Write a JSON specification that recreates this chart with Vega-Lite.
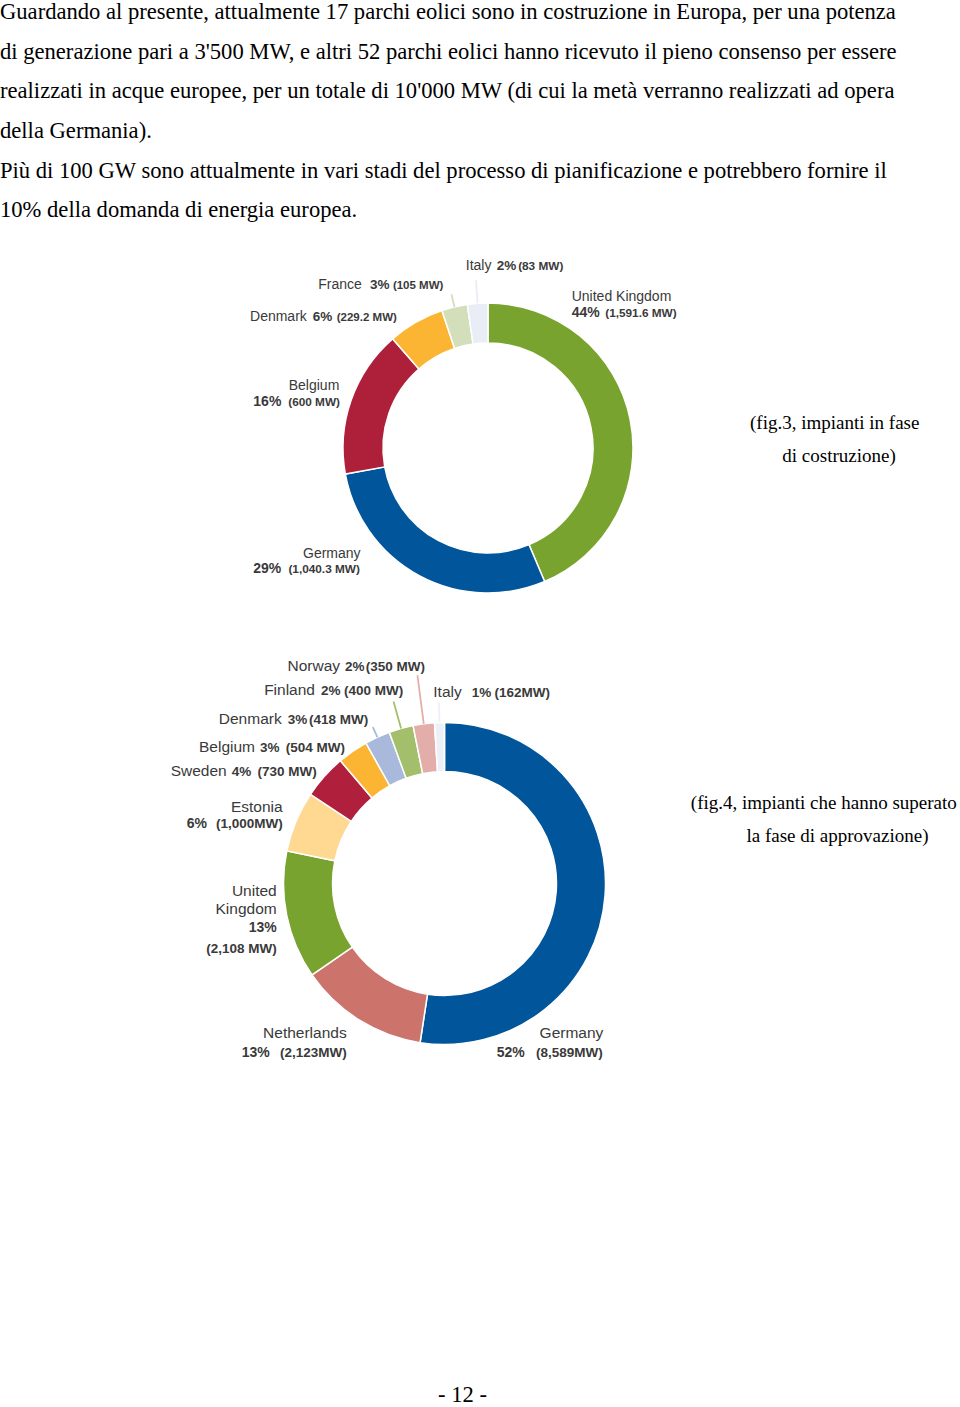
{
  "$schema": "https://vega.github.io/schema/vega-lite/v6.json",
  "padding": 0,
  "background": "white",
  "bounds": "flush",
  "resolve": {"scale": {"color": "independent", "theta": "independent"}},
  "title": {
    "text": [
      "Guardando al presente, attualmente 17 parchi eolici sono in costruzione in Europa, per una potenza",
      "di generazione pari a 3'500 MW, e altri 52 parchi eolici hanno ricevuto il pieno consenso per essere",
      "realizzati in acque europee, per un totale di 10'000 MW (di cui la metà verranno realizzati ad opera",
      "della Germania).",
      "Più di 100 GW sono attualmente in vari stadi del processo di pianificazione e potrebbero fornire il",
      "10% della domanda di energia europea."
    ],
    "anchor": "start",
    "frame": "group",
    "align": "left",
    "baseline": "top",
    "font": "Liberation Serif",
    "fontSize": 22.6,
    "fontWeight": "normal",
    "color": "#000000",
    "lineHeight": 39.7,
    "offset": -48,
    "dx": -16
  },
  "spacing": 0,
  "vconcat": [
    {
      "width": 944,
      "height": 432,
      "layer": [
        {
          "data": {
            "values": [
              {"country": "United Kingdom", "mw": 1591.6, "pct": "44%", "mwText": "(1,591.6 MW)"},
              {"country": "Germany", "mw": 1040.3, "pct": "29%", "mwText": "(1,040.3 MW)"},
              {"country": "Belgium", "mw": 600, "pct": "16%", "mwText": "(600 MW)"},
              {"country": "Denmark", "mw": 229.2, "pct": "6%", "mwText": "(229.2 MW)"},
              {"country": "France", "mw": 105, "pct": "3%", "mwText": "(105 MW)"},
              {"country": "Italy", "mw": 83, "pct": "2%", "mwText": "(83 MW)"}
            ]
          },
          "encoding": {
            "theta": {"field": "mw", "type": "quantitative", "stack": true},
            "order": {"field": "mw", "type": "quantitative", "sort": "descending"},
            "detail": {"field": "country", "type": "nominal"}
          },
          "layer": [
            {
              "mark": {"type": "arc", "innerRadius": 105, "outerRadius": 145, "stroke": "white", "strokeWidth": 1.5},
              "encoding": {
                "color": {"field": "country", "type": "nominal", "legend": null,
                  "scale": {"domain": ["United Kingdom", "Germany", "Belgium", "Denmark", "France", "Italy"],
                            "range": ["#79a32f", "#00559b", "#ae1f3a", "#fbb532", "#d3dfbb", "#e8edf6"]}}
              }
            },
            {
              "mark": {"type": "arc", "filled": false, "innerRadius": 145, "outerRadius": 158, "padAngle": 2, "strokeWidth": 1.8},
              "encoding": {
                "color": {"field": "country", "type": "nominal", "legend": null},
                "opacity": {"condition": {"test": "datum.country === 'France'", "value": 1}, "value": 0}
              }
            },
            {
              "mark": {"type": "arc", "filled": false, "innerRadius": 145, "outerRadius": 168, "padAngle": 2, "strokeWidth": 1.8},
              "encoding": {
                "color": {"field": "country", "type": "nominal", "legend": null},
                "opacity": {"condition": {"test": "datum.country === 'Italy'", "value": 1}, "value": 0}
              }
            },
            {"mark": {"type": "text", "radius": 145, "align": "left", "dx": -58.4, "dy": -118.4, "fontSize": 14},
             "encoding": {"text": {"condition": {"test": "datum.country === 'United Kingdom'", "field": "country"}, "value": ""}}},
            {"mark": {"type": "text", "radius": 145, "align": "left", "dx": -58.4, "dy": -102.4, "fontSize": 14, "fontWeight": "bold"},
             "encoding": {"text": {"condition": {"test": "datum.country === 'United Kingdom'", "field": "pct"}, "value": ""}}},
            {"mark": {"type": "text", "radius": 145, "align": "right", "dx": 46.6, "dy": -102.4, "fontSize": 11.8, "fontWeight": "bold"},
             "encoding": {"text": {"condition": {"test": "datum.country === 'United Kingdom'", "field": "mwText"}, "value": ""}}},

            {"mark": {"type": "text", "radius": 145, "align": "right", "dx": -58.6, "dy": -17.4, "fontSize": 14},
             "encoding": {"text": {"condition": {"test": "datum.country === 'Germany'", "field": "country"}, "value": ""}}},
            {"mark": {"type": "text", "radius": 145, "align": "left", "dx": -166, "dy": -2.4, "fontSize": 14, "fontWeight": "bold"},
             "encoding": {"text": {"condition": {"test": "datum.country === 'Germany'", "field": "pct"}, "value": ""}}},
            {"mark": {"type": "text", "radius": 145, "align": "right", "dx": -59.3, "dy": -2.4, "fontSize": 11.8, "fontWeight": "bold"},
             "encoding": {"text": {"condition": {"test": "datum.country === 'Germany'", "field": "mwText"}, "value": ""}}},

            {"mark": {"type": "text", "radius": 145, "align": "right", "dx": -11.8, "dy": -10.3, "fontSize": 14},
             "encoding": {"text": {"condition": {"test": "datum.country === 'Belgium'", "field": "country"}, "value": ""}}},
            {"mark": {"type": "text", "radius": 145, "align": "left", "dx": -97.8, "dy": 5.7, "fontSize": 14, "fontWeight": "bold"},
             "encoding": {"text": {"condition": {"test": "datum.country === 'Belgium'", "field": "pct"}, "value": ""}}},
            {"mark": {"type": "text", "radius": 145, "align": "right", "dx": -11.1, "dy": 5.7, "fontSize": 11.8, "fontWeight": "bold"},
             "encoding": {"text": {"condition": {"test": "datum.country === 'Belgium'", "field": "mwText"}, "value": ""}}},

            {"mark": {"type": "text", "radius": 145, "align": "right", "dx": -109, "dy": -1.6, "fontSize": 14},
             "encoding": {"text": {"condition": {"test": "datum.country === 'Denmark'", "field": "country"}, "value": ""}}},
            {"mark": {"type": "text", "radius": 145, "align": "left", "dx": -103, "dy": -1.6, "fontSize": 13.5, "fontWeight": "bold"},
             "encoding": {"text": {"condition": {"test": "datum.country === 'Denmark'", "field": "pct"}, "value": ""}}},
            {"mark": {"type": "text", "radius": 145, "align": "right", "dx": -19, "dy": -1.6, "fontSize": 11.5, "fontWeight": "bold"},
             "encoding": {"text": {"condition": {"test": "datum.country === 'Denmark'", "field": "mwText"}, "value": ""}}},

            {"mark": {"type": "text", "radius": 145, "align": "right", "dx": -92.7, "dy": -17.9, "fontSize": 14},
             "encoding": {"text": {"condition": {"test": "datum.country === 'France'", "field": "country"}, "value": ""}}},
            {"mark": {"type": "text", "radius": 145, "align": "left", "dx": -84.4, "dy": -17.9, "fontSize": 13.5, "fontWeight": "bold"},
             "encoding": {"text": {"condition": {"test": "datum.country === 'France'", "field": "pct"}, "value": ""}}},
            {"mark": {"type": "text", "radius": 145, "align": "right", "dx": -11.1, "dy": -17.9, "fontSize": 11.5, "fontWeight": "bold"},
             "encoding": {"text": {"condition": {"test": "datum.country === 'France'", "field": "mwText"}, "value": ""}}},

            {"mark": {"type": "text", "radius": 145, "align": "left", "dx": -11.9, "dy": -33.4, "fontSize": 14},
             "encoding": {"text": {"condition": {"test": "datum.country === 'Italy'", "field": "country"}, "value": ""}}},
            {"mark": {"type": "text", "radius": 145, "align": "left", "dx": 19.1, "dy": -33.4, "fontSize": 13.5, "fontWeight": "bold"},
             "encoding": {"text": {"condition": {"test": "datum.country === 'Italy'", "field": "pct"}, "value": ""}}},
            {"mark": {"type": "text", "radius": 145, "align": "right", "dx": 85.7, "dy": -33.4, "fontSize": 11.8, "fontWeight": "bold"},
             "encoding": {"text": {"condition": {"test": "datum.country === 'Italy'", "field": "mwText"}, "value": ""}}}
          ]
        },
        {
          "data": {"values": [{"l1": "(fig.3, impianti in fase", "l2": "di costruzione)"}]},
          "layer": [
            {"mark": {"type": "text", "font": "Liberation Serif", "fontSize": 19, "color": "#000000", "align": "center", "dx": 346.7, "dy": -18.7},
             "encoding": {"text": {"field": "l1", "type": "nominal"}}},
            {"mark": {"type": "text", "font": "Liberation Serif", "fontSize": 19, "color": "#000000", "align": "center", "dx": 351, "dy": 13.7},
             "encoding": {"text": {"field": "l2", "type": "nominal"}}}
          ]
        }
      ]
    },
    {
      "width": 857,
      "height": 439,
      "layer": [
        {
          "data": {
            "values": [
              {"country": "Germany", "mw": 8589, "pct": "52%", "mwText": "(8,589MW)"},
              {"country": "Netherlands", "mw": 2123, "pct": "13%", "mwText": "(2,123MW)"},
              {"country": "United Kingdom", "mw": 2108, "pct": "13%", "mwText": "(2,108 MW)"},
              {"country": "Estonia", "mw": 1000, "pct": "6%", "mwText": "(1,000MW)"},
              {"country": "Sweden", "mw": 730, "pct": "4%", "mwText": "(730 MW)"},
              {"country": "Belgium", "mw": 504, "pct": "3%", "mwText": "(504 MW)"},
              {"country": "Denmark", "mw": 418, "pct": "3%", "mwText": "(418 MW)"},
              {"country": "Finland", "mw": 400, "pct": "2%", "mwText": "(400 MW)"},
              {"country": "Norway", "mw": 350, "pct": "2%", "mwText": "(350 MW)"},
              {"country": "Italy", "mw": 162, "pct": "1%", "mwText": "(162MW)"}
            ]
          },
          "encoding": {
            "theta": {"field": "mw", "type": "quantitative", "stack": true},
            "order": {"field": "mw", "type": "quantitative", "sort": "descending"},
            "detail": {"field": "country", "type": "nominal"}
          },
          "layer": [
            {
              "mark": {"type": "arc", "innerRadius": 112, "outerRadius": 161, "stroke": "white", "strokeWidth": 1.5},
              "encoding": {
                "color": {"field": "country", "type": "nominal", "legend": null,
                  "scale": {"domain": ["Germany", "Netherlands", "United Kingdom", "Estonia", "Sweden", "Belgium", "Denmark", "Finland", "Norway", "Italy"],
                            "range": ["#00559b", "#cc746b", "#79a32f", "#ffd891", "#b01f3b", "#fbb532", "#a8b9db", "#a3bf6b", "#e3aeaa", "#edf0f7"]}}
              }
            },
            {
              "mark": {"type": "arc", "filled": false, "innerRadius": 161, "outerRadius": 172, "padAngle": 2, "strokeWidth": 1.8},
              "encoding": {
                "color": {"field": "country", "type": "nominal", "legend": null},
                "opacity": {"condition": {"test": "datum.country === 'Denmark'", "value": 1}, "value": 0}
              }
            },
            {
              "mark": {"type": "arc", "filled": false, "innerRadius": 161, "outerRadius": 189, "padAngle": 2, "strokeWidth": 1.8},
              "encoding": {
                "color": {"field": "country", "type": "nominal", "legend": null},
                "opacity": {"condition": {"test": "datum.country === 'Finland'", "value": 1}, "value": 0}
              }
            },
            {
              "mark": {"type": "arc", "filled": false, "innerRadius": 161, "outerRadius": 210, "padAngle": 2, "strokeWidth": 1.8},
              "encoding": {
                "color": {"field": "country", "type": "nominal", "legend": null},
                "opacity": {"condition": {"test": "datum.country === 'Norway'", "value": 1}, "value": 0}
              }
            },
            {
              "mark": {"type": "arc", "filled": false, "innerRadius": 161, "outerRadius": 181, "padAngle": 2, "strokeWidth": 1.8},
              "encoding": {
                "color": {"field": "country", "type": "nominal", "legend": null},
                "opacity": {"condition": {"test": "datum.country === 'Italy'", "value": 1}, "value": 0}
              }
            },

            {"mark": {"type": "text", "radius": 161, "align": "right", "dx": -1.7, "dy": 142.6, "fontSize": 15.5},
             "encoding": {"text": {"condition": {"test": "datum.country === 'Germany'", "field": "country"}, "value": ""}}},
            {"mark": {"type": "text", "radius": 161, "align": "left", "dx": -108.3, "dy": 161, "fontSize": 14, "fontWeight": "bold"},
             "encoding": {"text": {"condition": {"test": "datum.country === 'Germany'", "field": "pct"}, "value": ""}}},
            {"mark": {"type": "text", "radius": 161, "align": "right", "dx": -2.3, "dy": 161, "fontSize": 13.5, "fontWeight": "bold"},
             "encoding": {"text": {"condition": {"test": "datum.country === 'Germany'", "field": "mwText"}, "value": ""}}},

            {"mark": {"type": "text", "radius": 161, "align": "right", "dx": -12.4, "dy": 18.3, "fontSize": 15.5},
             "encoding": {"text": {"condition": {"test": "datum.country === 'Netherlands'", "field": "country"}, "value": ""}}},
            {"mark": {"type": "text", "radius": 161, "align": "left", "dx": -117.4, "dy": 36.7, "fontSize": 14, "fontWeight": "bold"},
             "encoding": {"text": {"condition": {"test": "datum.country === 'Netherlands'", "field": "pct"}, "value": ""}}},
            {"mark": {"type": "text", "radius": 161, "align": "right", "dx": -12.4, "dy": 36.7, "fontSize": 13.5, "fontWeight": "bold"},
             "encoding": {"text": {"condition": {"test": "datum.country === 'Netherlands'", "field": "mwText"}, "value": ""}}},

            {"mark": {"type": "text", "radius": 161, "align": "right", "dx": -10, "dy": -19.5, "fontSize": 15.5, "lineBreak": " ", "lineHeight": 17.8},
             "encoding": {"text": {"condition": {"test": "datum.country === 'United Kingdom'", "field": "country"}, "value": ""}}},
            {"mark": {"type": "text", "radius": 161, "align": "right", "dx": -10, "dy": 16.2, "fontSize": 14, "fontWeight": "bold"},
             "encoding": {"text": {"condition": {"test": "datum.country === 'United Kingdom'", "field": "pct"}, "value": ""}}},
            {"mark": {"type": "text", "radius": 161, "align": "right", "dx": -10, "dy": 37.8, "fontSize": 13.5, "fontWeight": "bold"},
             "encoding": {"text": {"condition": {"test": "datum.country === 'United Kingdom'", "field": "mwText"}, "value": ""}}},

            {"mark": {"type": "text", "radius": 161, "align": "right", "dx": -13.3, "dy": -9.7, "fontSize": 15.5},
             "encoding": {"text": {"condition": {"test": "datum.country === 'Estonia'", "field": "country"}, "value": ""}}},
            {"mark": {"type": "text", "radius": 161, "align": "left", "dx": -109.3, "dy": 6.9, "fontSize": 14, "fontWeight": "bold"},
             "encoding": {"text": {"condition": {"test": "datum.country === 'Estonia'", "field": "pct"}, "value": ""}}},
            {"mark": {"type": "text", "radius": 161, "align": "right", "dx": -13.3, "dy": 6.9, "fontSize": 13.5, "fontWeight": "bold"},
             "encoding": {"text": {"condition": {"test": "datum.country === 'Estonia'", "field": "mwText"}, "value": ""}}},

            {"mark": {"type": "text", "radius": 161, "align": "right", "dx": -97.6, "dy": -0.4, "fontSize": 15.5},
             "encoding": {"text": {"condition": {"test": "datum.country === 'Sweden'", "field": "country"}, "value": ""}}},
            {"mark": {"type": "text", "radius": 161, "align": "left", "dx": -92.6, "dy": -0.4, "fontSize": 13.5, "fontWeight": "bold"},
             "encoding": {"text": {"condition": {"test": "datum.country === 'Sweden'", "field": "pct"}, "value": ""}}},
            {"mark": {"type": "text", "radius": 161, "align": "right", "dx": -7.6, "dy": -0.4, "fontSize": 13.5, "fontWeight": "bold"},
             "encoding": {"text": {"condition": {"test": "datum.country === 'Sweden'", "field": "mwText"}, "value": ""}}},

            {"mark": {"type": "text", "radius": 161, "align": "right", "dx": -97.7, "dy": 0.5, "fontSize": 15.5},
             "encoding": {"text": {"condition": {"test": "datum.country === 'Belgium'", "field": "country"}, "value": ""}}},
            {"mark": {"type": "text", "radius": 161, "align": "left", "dx": -92.7, "dy": 0.5, "fontSize": 13.5, "fontWeight": "bold"},
             "encoding": {"text": {"condition": {"test": "datum.country === 'Belgium'", "field": "pct"}, "value": ""}}},
            {"mark": {"type": "text", "radius": 161, "align": "right", "dx": -7.7, "dy": 0.5, "fontSize": 13.5, "fontWeight": "bold"},
             "encoding": {"text": {"condition": {"test": "datum.country === 'Belgium'", "field": "mwText"}, "value": ""}}},

            {"mark": {"type": "text", "radius": 161, "align": "right", "dx": -95.7, "dy": -13.1, "fontSize": 15.5},
             "encoding": {"text": {"condition": {"test": "datum.country === 'Denmark'", "field": "country"}, "value": ""}}},
            {"mark": {"type": "text", "radius": 161, "align": "left", "dx": -89.7, "dy": -13.1, "fontSize": 13.5, "fontWeight": "bold"},
             "encoding": {"text": {"condition": {"test": "datum.country === 'Denmark'", "field": "pct"}, "value": ""}}},
            {"mark": {"type": "text", "radius": 161, "align": "right", "dx": -9.1, "dy": -13.1, "fontSize": 13.5, "fontWeight": "bold"},
             "encoding": {"text": {"condition": {"test": "datum.country === 'Denmark'", "field": "mwText"}, "value": ""}}},

            {"mark": {"type": "text", "radius": 161, "align": "right", "dx": -86.1, "dy": -33.5, "fontSize": 15.5},
             "encoding": {"text": {"condition": {"test": "datum.country === 'Finland'", "field": "country"}, "value": ""}}},
            {"mark": {"type": "text", "radius": 161, "align": "left", "dx": -80.1, "dy": -33.5, "fontSize": 13.5, "fontWeight": "bold"},
             "encoding": {"text": {"condition": {"test": "datum.country === 'Finland'", "field": "pct"}, "value": ""}}},
            {"mark": {"type": "text", "radius": 161, "align": "right", "dx": 2.2, "dy": -33.5, "fontSize": 13.5, "fontWeight": "bold"},
             "encoding": {"text": {"condition": {"test": "datum.country === 'Finland'", "field": "mwText"}, "value": ""}}},

            {"mark": {"type": "text", "radius": 161, "align": "right", "dx": -83.7, "dy": -53.1, "fontSize": 15.5},
             "encoding": {"text": {"condition": {"test": "datum.country === 'Norway'", "field": "country"}, "value": ""}}},
            {"mark": {"type": "text", "radius": 161, "align": "left", "dx": -78.7, "dy": -53.1, "fontSize": 13.5, "fontWeight": "bold"},
             "encoding": {"text": {"condition": {"test": "datum.country === 'Norway'", "field": "pct"}, "value": ""}}},
            {"mark": {"type": "text", "radius": 161, "align": "right", "dx": 1.3, "dy": -53.1, "fontSize": 13.5, "fontWeight": "bold"},
             "encoding": {"text": {"condition": {"test": "datum.country === 'Norway'", "field": "mwText"}, "value": ""}}},

            {"mark": {"type": "text", "radius": 161, "align": "left", "dx": -6.2, "dy": -25.9, "fontSize": 15.5},
             "encoding": {"text": {"condition": {"test": "datum.country === 'Italy'", "field": "country"}, "value": ""}}},
            {"mark": {"type": "text", "radius": 161, "align": "left", "dx": 32.2, "dy": -25.9, "fontSize": 13.5, "fontWeight": "bold"},
             "encoding": {"text": {"condition": {"test": "datum.country === 'Italy'", "field": "pct"}, "value": ""}}},
            {"mark": {"type": "text", "radius": 161, "align": "right", "dx": 110.5, "dy": -25.9, "fontSize": 13.5, "fontWeight": "bold"},
             "encoding": {"text": {"condition": {"test": "datum.country === 'Italy'", "field": "mwText"}, "value": ""}}}
          ]
        },
        {
          "data": {"values": [{"l1": "(fig.4, impianti che hanno superato", "l2": "la fase di approvazione)", "page": "- 12 -"}]},
          "layer": [
            {"mark": {"type": "text", "font": "Liberation Serif", "fontSize": 19, "color": "#000000", "align": "center", "dx": 379.3, "dy": -74.2},
             "encoding": {"text": {"field": "l1", "type": "nominal"}}},
            {"mark": {"type": "text", "font": "Liberation Serif", "fontSize": 19, "color": "#000000", "align": "center", "dx": 393, "dy": -41.8},
             "encoding": {"text": {"field": "l2", "type": "nominal"}}},
            {"mark": {"type": "text", "font": "Liberation Serif", "fontSize": 22.6, "color": "#000000", "align": "center", "dx": 18, "dy": 518.8},
             "encoding": {"text": {"field": "page", "type": "nominal"}}}
          ]
        }
      ]
    }
  ],
  "config": {
    "view": {"stroke": null},
    "text": {"font": "Liberation Sans", "color": "#3a3a3a", "baseline": "alphabetic"}
  }
}
